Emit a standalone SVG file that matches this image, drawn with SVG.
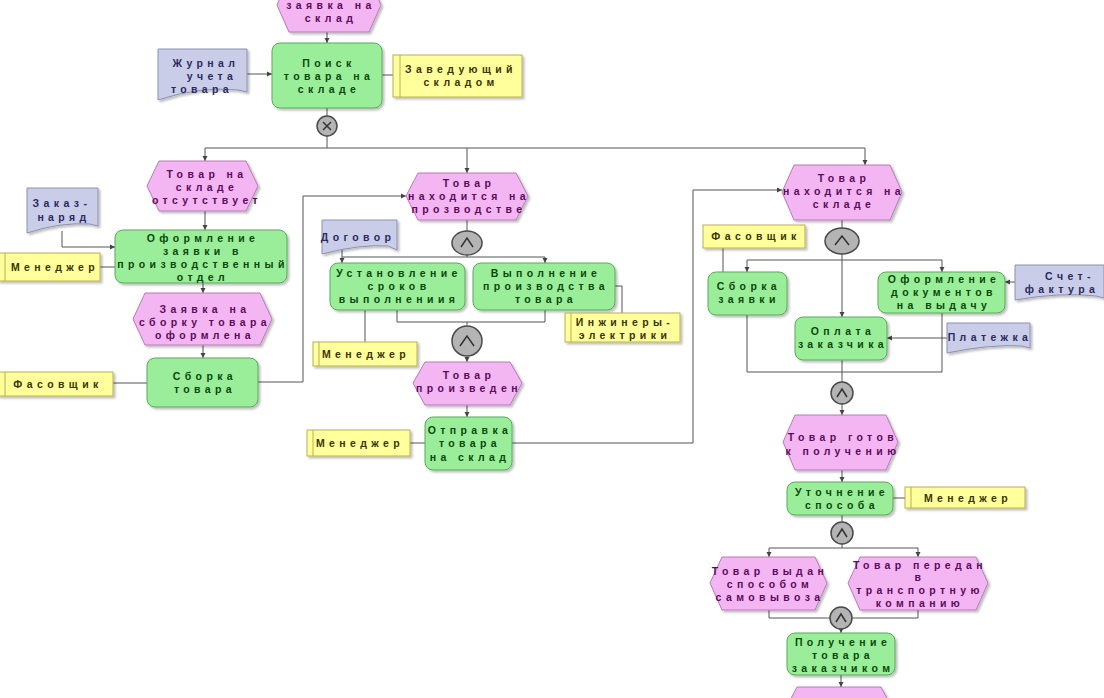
<svg xmlns="http://www.w3.org/2000/svg" width="1104" height="698" viewBox="0 0 1104 698">
<defs>
<style>
text{font-family:"Liberation Sans",Arial,sans-serif;font-weight:bold;font-size:10.5px;letter-spacing:4.4px;text-anchor:middle}
.ev{fill:#f3b6f3;stroke:#b57ab5;stroke-width:1}
.fn{fill:#9aee9a;stroke:#5aa85a;stroke-width:1}
.doc{fill:#c9cde8;stroke:#8d8fb0;stroke-width:1}
.org{fill:#ffff9c;stroke:#b9ae52;stroke-width:1}
.cn{fill:#b4b4b4;stroke:#4a4a4a;stroke-width:1.5}
.sym{fill:none;stroke:#333;stroke-width:1.5}
.te{fill:#5c0a5c}
.tf{fill:#0a480a}
.td{fill:#2a2a60}
.to{fill:#3a3400}
.ln{fill:none;stroke:#555;stroke-width:1}
.sh{filter:url(#ds)}
</style>
<filter id="ds" x="-10%" y="-10%" width="130%" height="130%">
<feDropShadow dx="2" dy="2" stdDeviation="1" flood-color="#000" flood-opacity="0.25"/>
</filter>
<marker id="ar" markerWidth="6" markerHeight="6" refX="5" refY="3" orient="auto" markerUnits="userSpaceOnUse">
<path d="M0,0.5 L5,3 L0,5.5 Z" fill="#444"/>
</marker>
</defs>
<rect width="1104" height="698" fill="#ffffff"/>

<g id="connectors">
<path class="ln" d="M327,32 V43" marker-end="url(#ar)"/>
<path class="ln" d="M247,74 H272" marker-end="url(#ar)"/>
<path class="ln" d="M382,75 H393"/>
<path class="ln" d="M327,108 V116"/>
<path class="ln" d="M327,136 V148 M205,148 H865"/>
<path class="ln" d="M205,148 V161" marker-end="url(#ar)"/>
<path class="ln" d="M467,148 V173" marker-end="url(#ar)"/>
<path class="ln" d="M865,148 V165" marker-end="url(#ar)"/>
<path class="ln" d="M205,211 V230" marker-end="url(#ar)"/>
<path class="ln" d="M62,231 V247 H115" marker-end="url(#ar)"/>
<path class="ln" d="M100,267 H115"/>
<path class="ln" d="M203,283 V293" marker-end="url(#ar)"/>
<path class="ln" d="M203,345 V358" marker-end="url(#ar)"/>
<path class="ln" d="M113,383 H147"/>
<path class="ln" d="M258,382 H303 V196 H406" marker-end="url(#ar)"/>
<path class="ln" d="M467,220 V231"/>
<path class="ln" d="M467,255 V257 M342,257 H545"/>
<path class="ln" d="M342,246 V263" marker-end="url(#ar)"/>
<path class="ln" d="M545,257 V263" marker-end="url(#ar)"/>
<path class="ln" d="M615,286 H622 V313"/>
<path class="ln" d="M365,310 V342"/>
<path class="ln" d="M397,310 V322 H545 V310 M467,322 V325"/>
<path class="ln" d="M467,357 V362" marker-end="url(#ar)"/>
<path class="ln" d="M467,405 V417" marker-end="url(#ar)"/>
<path class="ln" d="M410,443 H425"/>
<path class="ln" d="M512,443 H693 V190 H782" marker-end="url(#ar)"/>
<path class="ln" d="M842,220 V228"/>
<path class="ln" d="M842,254 V317" marker-end="url(#ar)"/>
<path class="ln" d="M747,260 H942"/>
<path class="ln" d="M747,260 V272" marker-end="url(#ar)"/>
<path class="ln" d="M942,260 V272" marker-end="url(#ar)"/>
<path class="ln" d="M723,248 V272"/>
<path class="ln" d="M1015,282 H1005" marker-end="url(#ar)"/>
<path class="ln" d="M947,338 H887" marker-end="url(#ar)"/>
<path class="ln" d="M747,315 V372 H942 V313 M842,360 V382"/>
<path class="ln" d="M842,404 V415" marker-end="url(#ar)"/>
<path class="ln" d="M842,470 V482" marker-end="url(#ar)"/>
<path class="ln" d="M893,498 H905"/>
<path class="ln" d="M842,515 V522"/>
<path class="ln" d="M842,544 V548 M769,548 H918"/>
<path class="ln" d="M769,548 V557" marker-end="url(#ar)"/>
<path class="ln" d="M918,548 V557" marker-end="url(#ar)"/>
<path class="ln" d="M769,610 V618 H830 M852,618 H918 V610"/>
<path class="ln" d="M841,629 V633" marker-end="url(#ar)"/>
<path class="ln" d="M841,675 V687" marker-end="url(#ar)"/>
</g>

<!-- Top event -->
<g id="e0">
<polygon class="ev sh" points="289,-22 369,-22 381,5 369,32 289,32 277,5"/>
<text class="te" x="331" y="9">заявка на</text>
<text class="te" x="331" y="22">склад</text>
</g>

<g id="f1">
<rect class="fn sh" x="272" y="43" width="110" height="65" rx="8"/>
<text class="tf" x="329" y="67">Поиск</text>
<text class="tf" x="329" y="80">товара на</text>
<text class="tf" x="329" y="93">складе</text>
</g>

<g id="d1">
<path class="doc sh" d="M158,49 H247 V92 L238,90 Q200,86 158,100 Z"/>
<text class="td" x="206" y="67">Журнал</text>
<text class="td" x="212" y="80">учета</text>
<text class="td" x="202" y="93">товара</text>
</g>

<g id="o1">
<rect class="org sh" x="393" y="55" width="129" height="42"/>
<line x1="400" y1="55" x2="400" y2="97" stroke="#b9ae52"/>
<text class="to" x="461" y="73">Заведующий</text>
<text class="to" x="461" y="86">складом</text>
</g>

<g id="xor1">
<circle class="cn" cx="327" cy="126" r="10"/>
<path class="sym" d="M323,122 L331,130 M331,122 L323,130"/>
</g>

<g id="e1">
<polygon class="ev sh" points="159,161 246,161 258,186 246,211 159,211 147,186"/>
<text class="te" x="207" y="178">Товар на</text>
<text class="te" x="207" y="191">складе</text>
<text class="te" x="207" y="204">отсутствует</text>
</g>

<g id="d2">
<path class="doc sh" d="M27,188 H98 V226 L90,224 Q60,222 27,233 Z"/>
<text class="td" x="62" y="207">Заказ-</text>
<text class="td" x="64" y="221">наряд</text>
</g>

<g id="f2">
<rect class="fn sh" x="115" y="230" width="172" height="53" rx="8"/>
<text class="tf" x="203" y="242">Оформление</text>
<text class="tf" x="203" y="255">заявки в</text>
<text class="tf" x="203" y="268">производственный</text>
<text class="tf" x="203" y="281">отдел</text>
</g>

<g id="o2">
<rect class="org sh" x="-2" y="253" width="102" height="28"/>
<line x1="5" y1="253" x2="5" y2="281" stroke="#b9ae52"/>
<text class="to" x="55" y="271">Менеджер</text>
</g>

<g id="e2">
<polygon class="ev sh" points="145,293 260,293 272,319 260,345 145,345 133,319"/>
<text class="te" x="205" y="313">Заявка на</text>
<text class="te" x="205" y="326">сборку товара</text>
<text class="te" x="205" y="339">оформлена</text>
</g>

<g id="f3">
<rect class="fn sh" x="147" y="358" width="111" height="49" rx="8"/>
<text class="tf" x="205" y="380">Сборка</text>
<text class="tf" x="205" y="393">товара</text>
</g>

<g id="o3">
<rect class="org sh" x="-2" y="372" width="115" height="24"/>
<line x1="5" y1="372" x2="5" y2="396" stroke="#b9ae52"/>
<text class="to" x="58" y="388">Фасовщик</text>
</g>

<g id="e3">
<polygon class="ev sh" points="418,173 516,173 528,196 516,220 418,220 406,196"/>
<text class="te" x="469" y="187">Товар</text>
<text class="te" x="469" y="200">находится на</text>
<text class="te" x="469" y="213">прозводстве</text>
</g>

<g id="and1">
<ellipse class="cn" cx="467" cy="243" rx="15" ry="12"/>
<path class="sym" d="M461,247 L467,238 L473,247"/>
</g>

<g id="d3">
<path class="doc sh" d="M322,220 H397 V250 L388,246 Q360,244 322,254 Z"/>
<text class="td" x="358" y="241">Договор</text>
</g>

<g id="f4">
<rect class="fn sh" x="330" y="263" width="135" height="47" rx="8"/>
<text class="tf" x="399" y="277">Установление</text>
<text class="tf" x="399" y="290">сроков</text>
<text class="tf" x="399" y="303">выполнениия</text>
</g>

<g id="f5">
<rect class="fn sh" x="473" y="263" width="142" height="47" rx="8"/>
<text class="tf" x="546" y="277">Выполнение</text>
<text class="tf" x="546" y="290">производства</text>
<text class="tf" x="546" y="303">товара</text>
</g>

<g id="o4">
<rect class="org sh" x="565" y="313" width="115" height="29"/>
<line x1="571" y1="313" x2="571" y2="342" stroke="#b9ae52"/>
<text class="to" x="625" y="326">Инжинеры-</text>
<text class="to" x="625" y="339">электрики</text>
</g>

<g id="o5">
<rect class="org sh" x="313" y="342" width="104" height="24"/>
<line x1="319" y1="342" x2="319" y2="366" stroke="#b9ae52"/>
<text class="to" x="366" y="358">Менеджер</text>
</g>

<g id="and2">
<circle class="cn" cx="467" cy="341" r="15"/>
<path class="sym" d="M460,346 L467,336 L474,346"/>
</g>

<g id="e4">
<polygon class="ev sh" points="425,362 510,362 522,383 510,405 425,405 413,383"/>
<text class="te" x="469" y="379">Товар</text>
<text class="te" x="469" y="392">произведен</text>
</g>

<g id="f6">
<rect class="fn sh" x="425" y="417" width="87" height="53" rx="8"/>
<text class="tf" x="470" y="434">Отправка</text>
<text class="tf" x="470" y="447">товара</text>
<text class="tf" x="470" y="461">на склад</text>
</g>

<g id="o6">
<rect class="org sh" x="307" y="430" width="103" height="26"/>
<line x1="313" y1="430" x2="313" y2="456" stroke="#b9ae52"/>
<text class="to" x="360" y="447">Менеджер</text>
</g>

<g id="e5">
<polygon class="ev sh" points="794,165 890,165 902,192 890,220 794,220 782,192"/>
<text class="te" x="844" y="182">Товар</text>
<text class="te" x="844" y="195">находится на</text>
<text class="te" x="844" y="208">складе</text>
</g>

<g id="and3">
<ellipse class="cn" cx="842" cy="241" rx="17" ry="13"/>
<path class="sym" d="M835,245 L842,236 L849,245"/>
</g>

<g id="o7">
<rect class="org sh" x="703" y="225" width="102" height="23"/>
<text class="to" x="756" y="240">Фасовщик</text>
</g>

<g id="f7">
<rect class="fn sh" x="708" y="272" width="79" height="43" rx="8"/>
<text class="tf" x="749" y="290">Сборка</text>
<text class="tf" x="749" y="303">заявки</text>
</g>

<g id="f8">
<rect class="fn sh" x="878" y="272" width="127" height="41" rx="8"/>
<text class="tf" x="944" y="283">Оформление</text>
<text class="tf" x="944" y="296">документов</text>
<text class="tf" x="944" y="309">на выдачу</text>
</g>

<g id="d4">
<path class="doc sh" d="M1015,265 H1104 V298 L1096,296 Q1060,292 1015,300 Z"/>
<text class="td" x="1070" y="280">Счет-</text>
<text class="td" x="1062" y="293">фактура</text>
</g>

<g id="f9">
<rect class="fn sh" x="795" y="317" width="92" height="43" rx="8"/>
<text class="tf" x="843" y="335">Оплата</text>
<text class="tf" x="843" y="348">заказчика</text>
</g>

<g id="d5">
<path class="doc sh" d="M947,323 H1030 V348 L1022,346 Q990,344 947,353 Z"/>
<text class="td" x="990" y="341">Платежка</text>
</g>

<g id="and4">
<circle class="cn" cx="842" cy="393" r="11"/>
<path class="sym" d="M837,397 L842,389 L847,397"/>
</g>

<g id="e6">
<polygon class="ev sh" points="795,415 886,415 898,442 886,470 795,470 783,442"/>
<text class="te" x="843" y="441">Товар готов</text>
<text class="te" x="843" y="455">к получению</text>
</g>

<g id="f10">
<rect class="fn sh" x="787" y="482" width="106" height="33" rx="8"/>
<text class="tf" x="842" y="496">Уточнение</text>
<text class="tf" x="842" y="509">способа</text>
</g>

<g id="o8">
<rect class="org sh" x="905" y="487" width="120" height="21"/>
<line x1="911" y1="487" x2="911" y2="508" stroke="#b9ae52"/>
<text class="to" x="968" y="502">Менеджер</text>
</g>

<g id="and5">
<circle class="cn" cx="842" cy="533" r="11"/>
<path class="sym" d="M837,537 L842,529 L847,537"/>
</g>

<g id="e7">
<polygon class="ev sh" points="722,557 815,557 827,583 815,610 722,610 710,583"/>
<text class="te" x="770" y="575">Товар выдан</text>
<text class="te" x="770" y="588">способом</text>
<text class="te" x="770" y="601">самовывоза</text>
</g>

<g id="e8">
<polygon class="ev sh" points="860,557 976,557 988,583 976,610 860,610 848,583"/>
<text class="te" x="920" y="569">Товар передан</text>
<text class="te" x="920" y="581">в</text>
<text class="te" x="920" y="594">транспортную</text>
<text class="te" x="920" y="607">компанию</text>
</g>

<g id="and6">
<circle class="cn" cx="841" cy="618" r="11"/>
<path class="sym" d="M836,622 L841,614 L846,622"/>
</g>

<g id="f11">
<rect class="fn sh" x="787" y="633" width="108" height="42" rx="8"/>
<text class="tf" x="843" y="646">Получение</text>
<text class="tf" x="843" y="659">товара</text>
<text class="tf" x="843" y="672">заказчиком</text>
</g>

<g id="e9">
<polygon class="ev sh" points="797,687 881,687 893,710 881,730 797,730 785,710"/>
</g>
</svg>
